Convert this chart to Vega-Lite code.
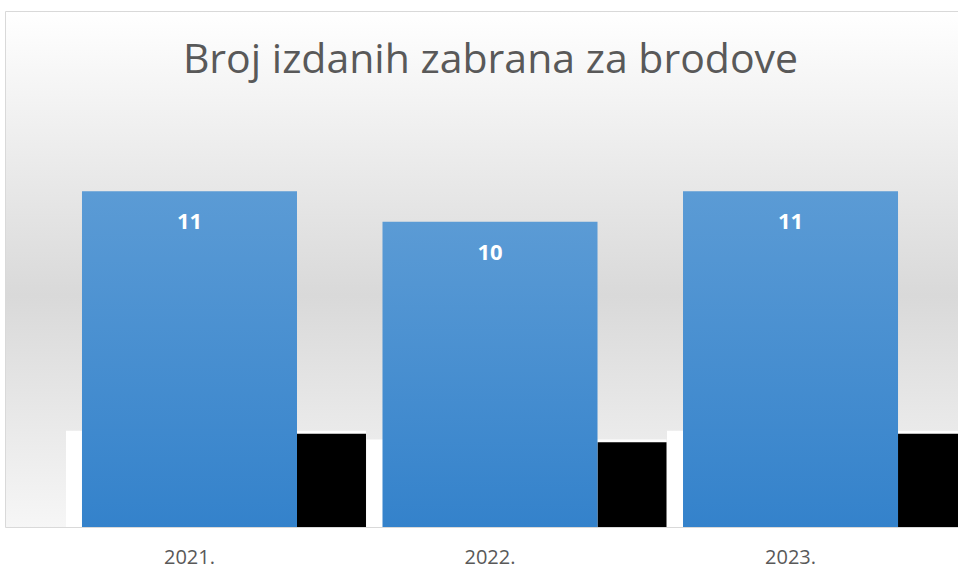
{
  "$schema": "https://vega.github.io/schema/vega-lite/v6.json",
  "autosize": "none",
  "width": 955,
  "height": 516,
  "padding": {"left": 5, "top": 11, "right": 0, "bottom": 54},
  "background": "#ffffff",
  "view": {
    "stroke": "#d9d9d9",
    "fill": {
      "gradient": "linear", "x1": 0, "y1": 0, "x2": 0, "y2": 1,
      "stops": [
        {"offset": 0, "color": "#ffffff"},
        {"offset": 0.55, "color": "#d9d9d9"},
        {"offset": 1, "color": "#f6f6f6"}
      ]
    }
  },
  "title": {
    "text": "Broj izdanih zabrana za brodove",
    "font": "Open Sans",
    "fontSize": 41,
    "fontWeight": "normal",
    "color": "#595959",
    "anchor": "middle",
    "baseline": "alphabetic",
    "offset": -103,
    "dx": 8
  },
  "data": {
    "values": [
      {"godina": "2021.", "broj": 11},
      {"godina": "2022.", "broj": 10},
      {"godina": "2023.", "broj": 11}
    ]
  },
  "encoding": {
    "x": {
      "field": "godina",
      "type": "nominal",
      "sort": null,
      "scale": {"paddingInner": 0.2845, "paddingOuter": 0.2312, "align": 0.554},
      "axis": {
        "title": null,
        "domain": false,
        "ticks": false,
        "labelAngle": 0,
        "labelFont": "Open Sans",
        "labelFontSize": 20,
        "labelColor": "#595959",
        "labelPadding": 20
      }
    }
  },
  "layer": [
    {
      "mark": {"type": "bar", "color": "#ffffff", "width": 300, "xOffset": 26.5},
      "encoding": {
        "y": {"field": "broj", "type": "quantitative", "scale": {"domain": [0, 59]}, "axis": null}
      }
    },
    {
      "mark": {"type": "bar", "color": "#000000", "width": 69, "xOffset": 142},
      "encoding": {
        "y": {"field": "broj", "type": "quantitative", "scale": {"domain": [0, 60.8]}, "axis": null}
      }
    },
    {
      "mark": {
        "type": "bar",
        "color": {
          "gradient": "linear", "x1": 0, "y1": 0, "x2": 0, "y2": 1,
          "stops": [
            {"offset": 0, "color": "#5b9bd5"},
            {"offset": 1, "color": "#3482cb"}
          ]
        }
      },
      "encoding": {
        "y": {"field": "broj", "type": "quantitative", "scale": {"domain": [0, 16.9]}, "axis": null}
      }
    },
    {
      "mark": {"type": "text", "color": "#ffffff", "font": "Open Sans", "fontWeight": "bold", "fontSize": 22, "baseline": "alphabetic", "dy": 38},
      "encoding": {
        "y": {"field": "broj", "type": "quantitative", "scale": {"domain": [0, 16.9]}, "axis": null},
        "text": {"field": "broj", "type": "quantitative"}
      }
    }
  ],
  "resolve": {"scale": {"y": "independent"}}
}
